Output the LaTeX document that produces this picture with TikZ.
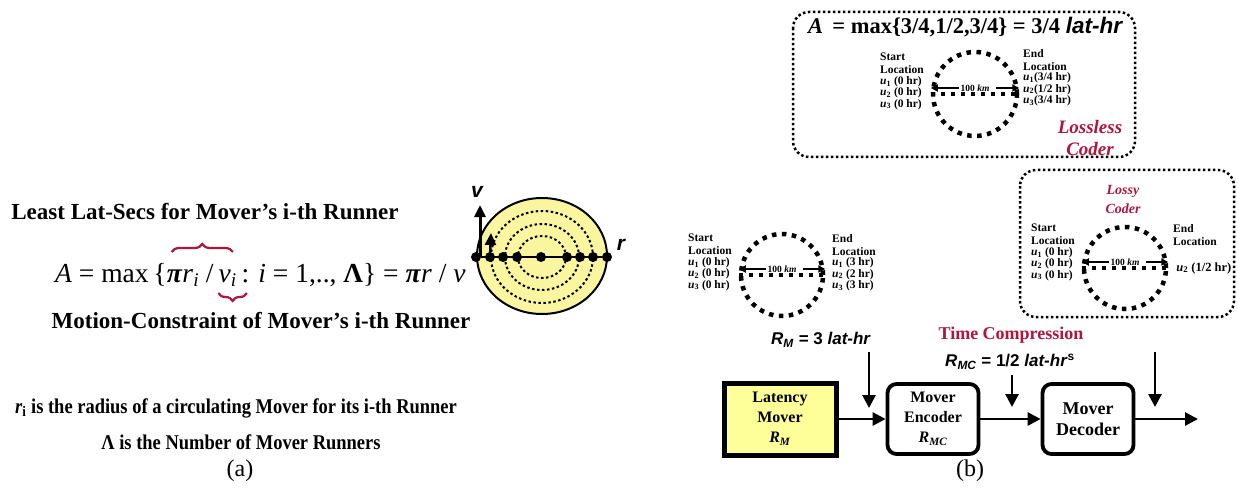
\documentclass[tikz,border=0pt]{standalone}
\usepackage{fontspec}
\setmainfont{Liberation Serif}
\setsansfont{Liberation Sans}
\usepackage{tikz}
\usetikzlibrary{shapes,arrows.meta,positioning,calc,decorations.pathreplacing}
\definecolor{coderred}{RGB}{178, 20, 60}
\definecolor{moveryellow}{RGB}{255, 255, 153}
\definecolor{ringyellow}{RGB}{250, 246, 160}
\newcommand{\runu}[1]{\textit{u}\textsubscript{#1}}

\tikzset{
  lbl/.style={font=\bfseries\fontsize{23}{25}\selectfont, inner sep=0},
  eq/.style={font=\fontsize{27.5}{30}\selectfont, inner sep=0, anchor=base west},
  bracered/.style={coderred, line width=2.2pt, decorate, decoration={brace, amplitude=8pt}},
  runner/.style={circle, fill=black, inner sep=0, minimum size=10pt},
  ring/.style={line width=2pt, dash pattern=on 2.5pt off 2.5pt},
  vel/.style={-{Triangle[length=12pt,width=11pt]}, line width=3pt},
  loc/.style={font=\bfseries\fontsize{11.5}{13}\selectfont, align=left, inner sep=0},
  ulist/.style={loc, font=\bfseries\fontsize{11.5}{9.5}\selectfont},
  track/.style={circle, draw, line width=4.5pt, dash pattern=on 4.5pt off 5.5pt, inner sep=0, minimum size=82pt},
  trackline/.style={line width=4.5pt, dash pattern=on 4.5pt off 5.5pt},
  kmlbl/.style={font=\bfseries\fontsize{9.5}{10}\selectfont, inner sep=1pt},
  kmarrow/.style={-{Triangle[length=7pt,width=7pt]}, line width=1.8pt},
  coderbox/.style={line width=2.5pt, dash pattern=on 2.5pt off 2.5pt, rounded corners=16pt},
  coder/.style={coderred, align=center, inner sep=0, font=\bfseries\itshape\fontsize{19}{22}\selectfont},
  block/.style={draw, line width=3.8pt, rounded corners=9pt, minimum width=91pt, minimum height=70pt, align=center, font=\bfseries\fontsize{16}{20}\selectfont},
  rlbl/.style={font=\sffamily\bfseries\fontsize{17}{19}\selectfont, inner sep=0},
  flow/.style={-{Triangle[length=13pt,width=13pt]}, line width=2.8pt}
}

\begin{document}
\begin{tikzpicture}[x=1pt, y=-1pt]
    \useasboundingbox (0,0) rectangle (1238,489);

    % (a) least lat-secs for the runners
    \node[lbl] (leastLbl) at (205,212) {Least Lat-Secs for Mover's i-th Runner};
    \node[eq] (eqL) at (55,282) {\textit{A} = max\,\{};
    \node[eq] (eqM) at (eqL.base east) {\textbf{\textit{π}}\textit{r}\textsubscript{\textit{i}} /\,};
    \node[eq] (eqV) at (eqM.base east) {\textit{v}\textsubscript{\textit{i}}};
    \node[eq] (eqR) at (eqV.base east) {\,: \textit{i} = 1,.., \textbf{Λ}\} = \textbf{\textit{π}}\textit{r} / \textit{v}};
    \draw[bracered] ($(eqM.base west)+(5,-30)$) -- ($(eqV.base east)+(-4,-30)$);
    \draw[bracered] ($(eqV.base east)+(10,11)$) -- ($(eqV.base west)+(0,11)$);
    \node[lbl] (motionLbl) at (261,321) {Motion-Constraint of Mover's i-th Runner};

    % circulating mover with its runners
    \filldraw[fill=ringyellow, line width=2pt] (542,256) ellipse [x radius=65pt, y radius=58pt];
    \foreach \a/\b in {51/46,37/33,24/21}
        \draw[ring] (542,257) ellipse [x radius=\a pt, y radius=\b pt];
    \foreach \rx/\nm in {476/r1,490/r2,503/r3,517/r4,541/r0,567/r5,580/r6,593/r7,607/r8}
        \node[runner] (\nm) at (\rx,257) {};
    \draw[line width=1.5pt] (r1) -- (r8);
    \coordinate (vTip) at (480,205);
    \coordinate (vTip2) at (491,233);
    \draw[vel] (vTip |- r1) -- (vTip);
    \draw[vel, line width=2.5pt] (r2) -- (vTip2);
    \node[font=\sffamily\bfseries\itshape\fontsize{21}{21}\selectfont] (vLbl) at (477,192) {v};
    \node[font=\sffamily\bfseries\itshape\fontsize{21}{21}\selectfont] (rLbl) at (621,245) {r};

    \node[lbl, font=\bfseries\fontsize{21}{23}\selectfont] (radiusLbl) at (236,408) {\scalebox{0.88}[1]{\textit{r}\textsubscript{i} is the radius of a circulating Mover for its i-th Runner}};
    \node[lbl, font=\bfseries\fontsize{21}{23}\selectfont] (lambdaLbl) at (241,442) {\scalebox{0.88}[1]{Λ is the Number of Mover Runners}};
    \node[font=\fontsize{24}{26}\selectfont] (capA) at (240,471) {(a)};

    % (b) lossless coder
    \draw[coderbox] (793,12) rectangle (1135,157);
    \node[font=\bfseries\fontsize{22.5}{24}\selectfont, inner sep=0] (maxLbl) at (965,27) {\textit{A}\, = max\{3/4,1/2,3/4\} = 3/4 {\sffamily\itshape lat-hr}};
    \node[track, minimum size=84pt] (trB) at (975,94) {};
    \draw[trackline] (trB.west) -- (trB.east);
    \node[kmlbl] (kmB) at ([yshift=6pt]trB.center) {100 \textit{km}};
    \draw[kmarrow] (kmB.west) -- (kmB.west -| trB.west);
    \draw[kmarrow, shorten <=5pt] (kmB.east) -- (kmB.east -| trB.east);
    \node[loc, anchor=north west] (stB) at (880,53) {Start\\Location};
    \node[ulist, below right=2pt and 0pt of stB.south west] (usB) {\runu{1} (0 hr)\\\runu{2} (0 hr)\\\runu{3} (0 hr)};
    \node[loc, anchor=north west] (enB) at (1023,49) {End\\Location};
    \node[ulist, below right=2pt and 0pt of enB.south west] (ueB) {\runu{1}(3/4 hr)\\\runu{2}(1/2 hr)\\\runu{3}(3/4 hr)};
    \node[coder] (llCoder) at (1090,138) {Lossless\\Coder};

    % (b) lossy coder
    \draw[coderbox] (1020,170) rectangle (1234,317);
    \node[coder, font=\bfseries\itshape\fontsize{14}{19}\selectfont] (lyCoder) at (1123,199) {Lossy\\Coder};
    \node[track] (trC) at (1125,268) {};
    \draw[trackline] (trC.west) -- (trC.east);
    \node[kmlbl] (kmC) at ([yshift=6pt]trC.center) {100 \textit{km}};
    \draw[kmarrow] (kmC.west) -- (kmC.west -| trC.west);
    \draw[kmarrow, shorten <=5pt] (kmC.east) -- (kmC.east -| trC.east);
    \node[loc, anchor=north west] (stC) at (1031,224) {Start\\Location};
    \node[ulist, below right=2pt and 0pt of stC.south west] (usC) {\runu{1} (0 hr)\\\runu{2} (0 hr)\\\runu{3} (0 hr)};
    \node[loc, anchor=north west] (enC) at (1173,224) {End\\Location};
    \node[loc, font=\bfseries\fontsize{12.5}{13}\selectfont, right=8pt of trC.east] (ueC) {\runu{2} (1/2 hr)};

    % (b) uncoded runners
    \node[track] (trA) at (782,275) {};
    \draw[trackline] (trA.west) -- (trA.east);
    \node[kmlbl] (kmA) at ([yshift=6pt]trA.center) {100 \textit{km}};
    \draw[kmarrow] (kmA.west) -- (kmA.west -| trA.west);
    \draw[kmarrow, shorten <=5pt] (kmA.east) -- (kmA.east -| trA.east);
    \node[loc, anchor=north west] (stA) at (688,234) {Start\\Location};
    \node[ulist, below right=2pt and 0pt of stA.south west] (usA) {\runu{1} (0 hr)\\\runu{2} (0 hr)\\\runu{3} (0 hr)};
    \node[loc, anchor=north west] (enA) at (832,234) {End\\Location};
    \node[ulist, below right=2pt and 0pt of enA.south west] (ueA) {\runu{1} (3 hr)\\\runu{2} (2 hr)\\\runu{3} (3 hr)};

    % (b) coding chain
    \node[rlbl] (rmLbl) at (821,340) {\textit{R}\textsubscript{\textit{M}} = 3 \textit{lat-hr}};
    \node[font=\bfseries\fontsize{18}{20}\selectfont, coderred, inner sep=0] (tcLbl) at (1011,335) {Time Compression};
    \node[rlbl] (rmcLbl) at (1010,362) {\textit{R}\textsubscript{\textit{MC}} = 1/2 \textit{lat-hr}\textsuperscript{s}};

    \node[block, sharp corners, fill=moveryellow, line width=5pt, minimum width=112pt, minimum height=72pt] (lat) at (780,419) {Latency\\Mover\\\textit{R}\textsubscript{\textit{M}}};
    \node[block] (enc) at (933,419) {Mover\\Encoder\\\textit{R}\textsubscript{\textit{MC}}};
    \node[block, font=\bfseries\fontsize{18}{21}\selectfont] (dec) at (1088,419) {Mover\\Decoder};
    \coordinate (out) at (1198,419);
    \draw[flow] (lat) -- (enc);
    \draw[flow] (enc) -- (dec);
    \draw[flow] (dec) -- (out);

    \coordinate (rmTop) at (869,352);
    \coordinate (rmTip) at (869,408);
    \coordinate (rmcTop) at (1012,375);
    \coordinate (rmcTip) at (1012,407);
    \coordinate (decTop) at (1155,352);
    \coordinate (decTip) at (1155,407);
    \draw[flow] (rmTop) -- (rmTip);
    \draw[flow] (rmcTop) -- (rmcTip);
    \draw[flow] (decTop) -- (decTip);

    \node[font=\fontsize{24}{26}\selectfont] (capB) at (970,471) {(b)};
\end{tikzpicture}
\end{document}
